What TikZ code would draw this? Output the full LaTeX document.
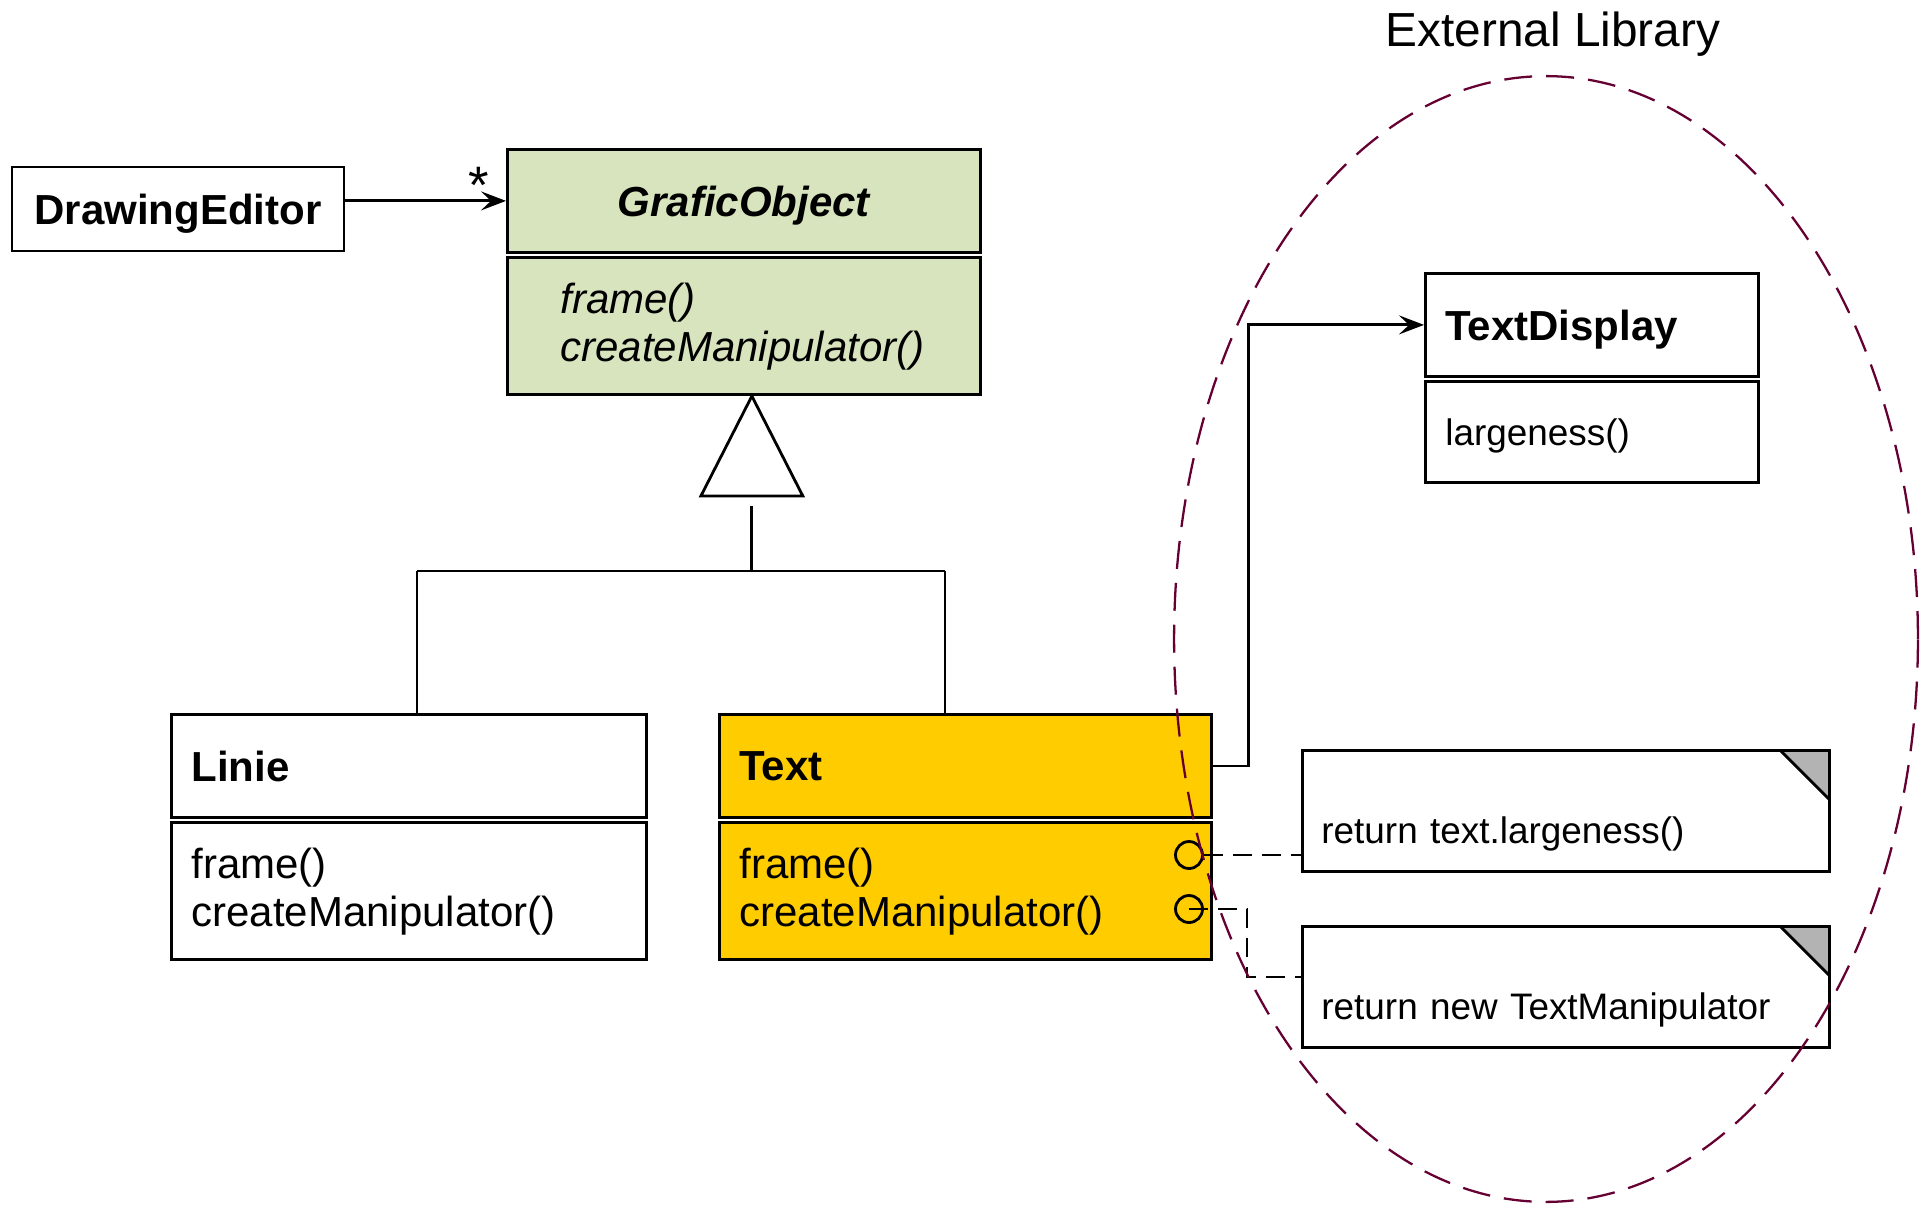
\documentclass[tikz,border=0pt]{standalone}
\usepackage{fontspec}
\setmainfont{Liberation Sans}
\usetikzlibrary{arrows.meta, positioning, shapes.geometric, calc}
\definecolor{clsgreen}{HTML}{D7E4BD}
\definecolor{clsyellow}{HTML}{FFCC00}
\definecolor{libline}{HTML}{660033}
\definecolor{foldgray}{HTML}{B3B3B3}

\begin{document}
\begin{tikzpicture}[
      x=0.02cm, y=-0.02cm,
      line/.style={line width=1.6pt, draw=black},
      clshead/.style={line, rectangle, anchor=north west, minimum height=2.06cm, inner xsep=0.4cm, text depth=0pt,
                      align=left, font=\fontsize{23.9}{27.3}\selectfont\bfseries},
      clsbody/.style={line, rectangle, minimum height=2.74cm, inner xsep=0.4cm,
                      align=left, font=\fontsize{23.9}{27.3}\selectfont},
      note/.style={line, rectangle, fill=white, minimum height=2.42cm, inner xsep=0.38cm, text width=9.78cm,
                   align=left, text height=1.44cm, text depth=0.14cm, font=\fontsize{21}{25}\selectfont,
                   path picture={\fill[foldgray] (path picture bounding box.north east) -- ++(-0.98cm,0)
                                 -- ++(0.98cm,-0.98cm) -- cycle;
                                 \draw[line] ([xshift=-0.98cm]path picture bounding box.north east)
                                 -- ++(0.98cm,-0.98cm);}},
      port/.style={line, circle, minimum size=0.54cm, inner sep=0pt},
      assoc/.style={line, -{Stealth[length=0.5cm, width=0.38cm, inset=0.2cm]}},
      link/.style={line, dash pattern=on 0.38cm off 0.2cm}
    ]
    \useasboundingbox (0,0) rectangle (1922,1207);

    % classes
    \node[line, rectangle, minimum width=6.64cm, minimum height=1.68cm, text depth=0pt,
          font=\fontsize{23.9}{27.3}\selectfont\bfseries] (editor) at (178,209) {DrawingEditor};

    \node[clshead, fill=clsgreen, text width=8.66cm, align=center, font=\fontsize{23.9}{27.3}\selectfont\bfseries\itshape]
         (gohead) at (506,148) {GraficObject};
    \node[clsbody, fill=clsgreen, inner xsep=1.06cm, text width=7.34cm, below=0.05cm of gohead,
          font=\fontsize{23.9}{27.3}\selectfont\itshape] (gobody) {frame()\\createManipulator()};

    \node[clshead, text width=8.7cm] (linhead) at (170,713) {Linie};
    \node[clsbody, text width=8.7cm, below=0.05cm of linhead] (linbody) {frame()\\createManipulator()};

    \node[clshead, fill=clsyellow, text width=9.04cm] (txthead) at (718,713) {Text};
    \node[clsbody, fill=clsyellow, text width=9.04cm, below=0.05cm of txthead] (txtbody) {frame()\\createManipulator()};

    \node[clshead, text width=5.86cm] (tdhead) at (1424,272) {TextDisplay};
    \node[clsbody, text width=5.86cm, minimum height=2.02cm, text depth=0pt, below=0.05cm of tdhead,
          font=\fontsize{21}{25}\selectfont] (tdbody) {largeness()};

    % notes
    \node[note, anchor=north west] (retlarge) at (1301,749) {return text.largeness()};
    \node[note, anchor=north west] (retmanip) at (1301,925) {return new TextManipulator};

    \node[port] (portframe) at (1189,855) {};
    \node[port] (portmanip) at (1189,909) {};

    % generalisation
    \coordinate (apex) at ($(gobody.south)+(8,0)$);
    \draw[line, fill=white] (apex) -- ++(-51,100) -- ++(102,0) -- cycle;
    \coordinate (tribase) at ($(apex)+(0,110)$);
    \coordinate (forkL) at (417,571);
    \coordinate (forkR) at (945,571);
    \draw[line] (tribase) -- (tribase |- forkL);
    \draw[line] (forkL) -- (forkR);
    \draw[line] (forkL) -- (forkL |- linhead.north);
    \draw[line] (forkR) -- (forkR |- txthead.north);

    % associations
    \draw[assoc] (editor.east |- gohead.west) -- (gohead.west)
         node[pos=1, anchor=south east, xshift=-0.2cm, yshift=-0.19cm, font=\fontsize{30}{32}\selectfont] (mult) {*};
    \draw[assoc] (txthead.east) -- ++(36,0) |- (tdhead.west);

    % note links
    \draw[link] (portframe.east) -- (portframe.east -| retlarge.west);
    \coordinate (bend) at (1247,977);
    \draw[link] (portmanip.center) -| (bend) -- (bend -| retmanip.west);

    % library boundary
    \node[ellipse, draw=libline, line width=1.3pt, dash pattern=on 0.56cm off 0.28cm,
          minimum width=14.88cm, minimum height=22.52cm] (extlib) at (1546,639) {};
    \node[anchor=base, font=\fontsize{27.2}{32}\selectfont] (extlabel) at (1553,46) {External Library};
  \end{tikzpicture}
\end{document}
